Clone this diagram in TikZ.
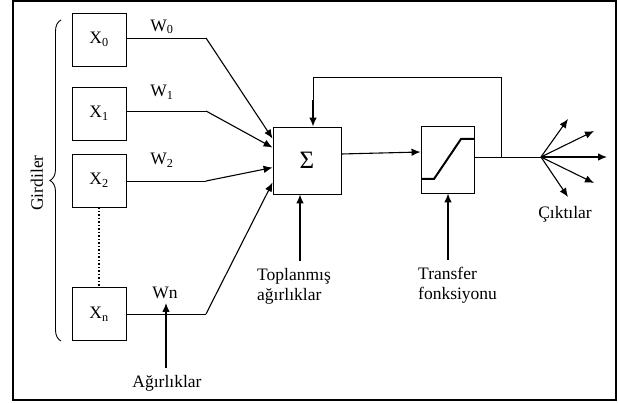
\documentclass[tikz,border=0pt]{standalone}
\usepackage{fontspec}
\setmainfont{Liberation Serif}
\usetikzlibrary{arrows.meta,decorations.pathreplacing}
\begin{document}
\begin{tikzpicture}[x=1pt,y=-1pt,
  box/.style={draw,line width=0.9pt,inner sep=0pt,font=\fontsize{17.5}{20}\selectfont},
  lbl/.style={inner sep=0pt,font=\fontsize{17.5}{20}\selectfont},
  wire/.style={line width=0.9pt},
  arr/.style={line width=1.1pt,-{Latex[length=9pt,width=7.5pt]}}]
\useasboundingbox (0,0) rectangle (619,403);
\draw[line width=1.4pt] (13,1) rectangle (616,400);
% input boxes
\node[box,minimum width=54pt,minimum height=53pt] (x0) at (99,39.5) {X\textsubscript{0}};
\node[box,minimum width=54pt,minimum height=53pt] (x1) at (99,113.5) {X\textsubscript{1}};
\node[box,minimum width=54pt,minimum height=53pt] (x2) at (99,180.5) {X\textsubscript{2}};
\node[box,minimum width=54pt,minimum height=53pt] (xn) at (99,314) {X\textsubscript{n}};
\draw[line width=1.5pt,dotted] (x2.south) -- (xn.north);
% sum and transfer boxes
\node[box,minimum width=68pt,minimum height=67pt] (sig) at (307,160.5) {\fontsize{25}{25}\selectfont Σ};
\node[box,minimum width=53pt,minimum height=67pt] (tf) at (447.5,159.5) {};
\draw[line width=2pt] (421,179) -- (434,179) -- (461,139) -- (474,139);
% weight labels
\node[lbl] (w0) at (162,27) {W\textsubscript{0}};
\node[lbl] (w1) at (162,92) {W\textsubscript{1}};
\node[lbl] (w2) at (162,160) {W\textsubscript{2}};
\node[lbl] (wn) at (165,293) {Wn};
% inputs to sum
\draw[wire] (x0.east |- 0,38) -- (206,38);
\draw[arr] (206,38) -- ([yshift=-12pt]sig.north west);
\draw[wire] (x1.east |- 0,111) -- (206,111);
\draw[arr] (206,111) -- ([yshift=-21pt]sig.north west);
\draw[wire] (x2.east |- 0,181) -- (206,181);
\draw[arr] (206,181) -- ([yshift=-41pt]sig.north west);
\draw[wire] (xn.east |- 0,314) -- (206,314);
\draw[arr] (206,314) -- ([yshift=-56pt]sig.north west);
% sum to transfer
\draw[arr] ([yshift=6.5pt]sig.east) -- ([yshift=7.5pt]tf.west);
% output and feedback
\coordinate (hub) at (541,157);
\coordinate (fb) at (501,157);
\draw[wire] ([yshift=2.5pt]tf.east) -- (hub);
\draw[wire] (fb) -- (501,77) -- (313,77) -- (313,100);
\draw[arr] (313,100) -- ([xshift=6pt]sig.north);
\coordinate (o1) at (568,119);
\coordinate (o2) at (594,131);
\coordinate (o3) at (607,157);
\coordinate (o4) at (594,183);
\coordinate (o5) at (568,197);
\foreach \o in {o1,o2,o3,o4,o5} \draw[arr] (hub) -- (\o);
\node[lbl] (out) at (565,214) {Çıktılar};
% bottom labels
\node[lbl,align=left,anchor=north west] (top) at (257,268) {Toplanmış\\ağırlıklar};
\node[lbl,align=left,anchor=north west] (tfl) at (418,267) {Transfer\\fonksiyonu};
\node[lbl] (agr) at (167,383) {Ağırlıklar};
\coordinate (topa) at (300,261);
\coordinate (tfa) at (448,260);
\coordinate (agra) at (166,368);
\draw[arr] (topa) -- (sig.south -| topa);
\draw[arr] (tfa) -- (tf.south -| tfa);
\draw[arr] (agra) -- (166,303);
% brace
\draw[line width=0.9pt,decorate,decoration={brace,amplitude=11pt}] (61,341) -- (61,20);
\node[lbl,rotate=90] (gir) at (37,183) {Girdiler};
\end{tikzpicture}
\end{document}
